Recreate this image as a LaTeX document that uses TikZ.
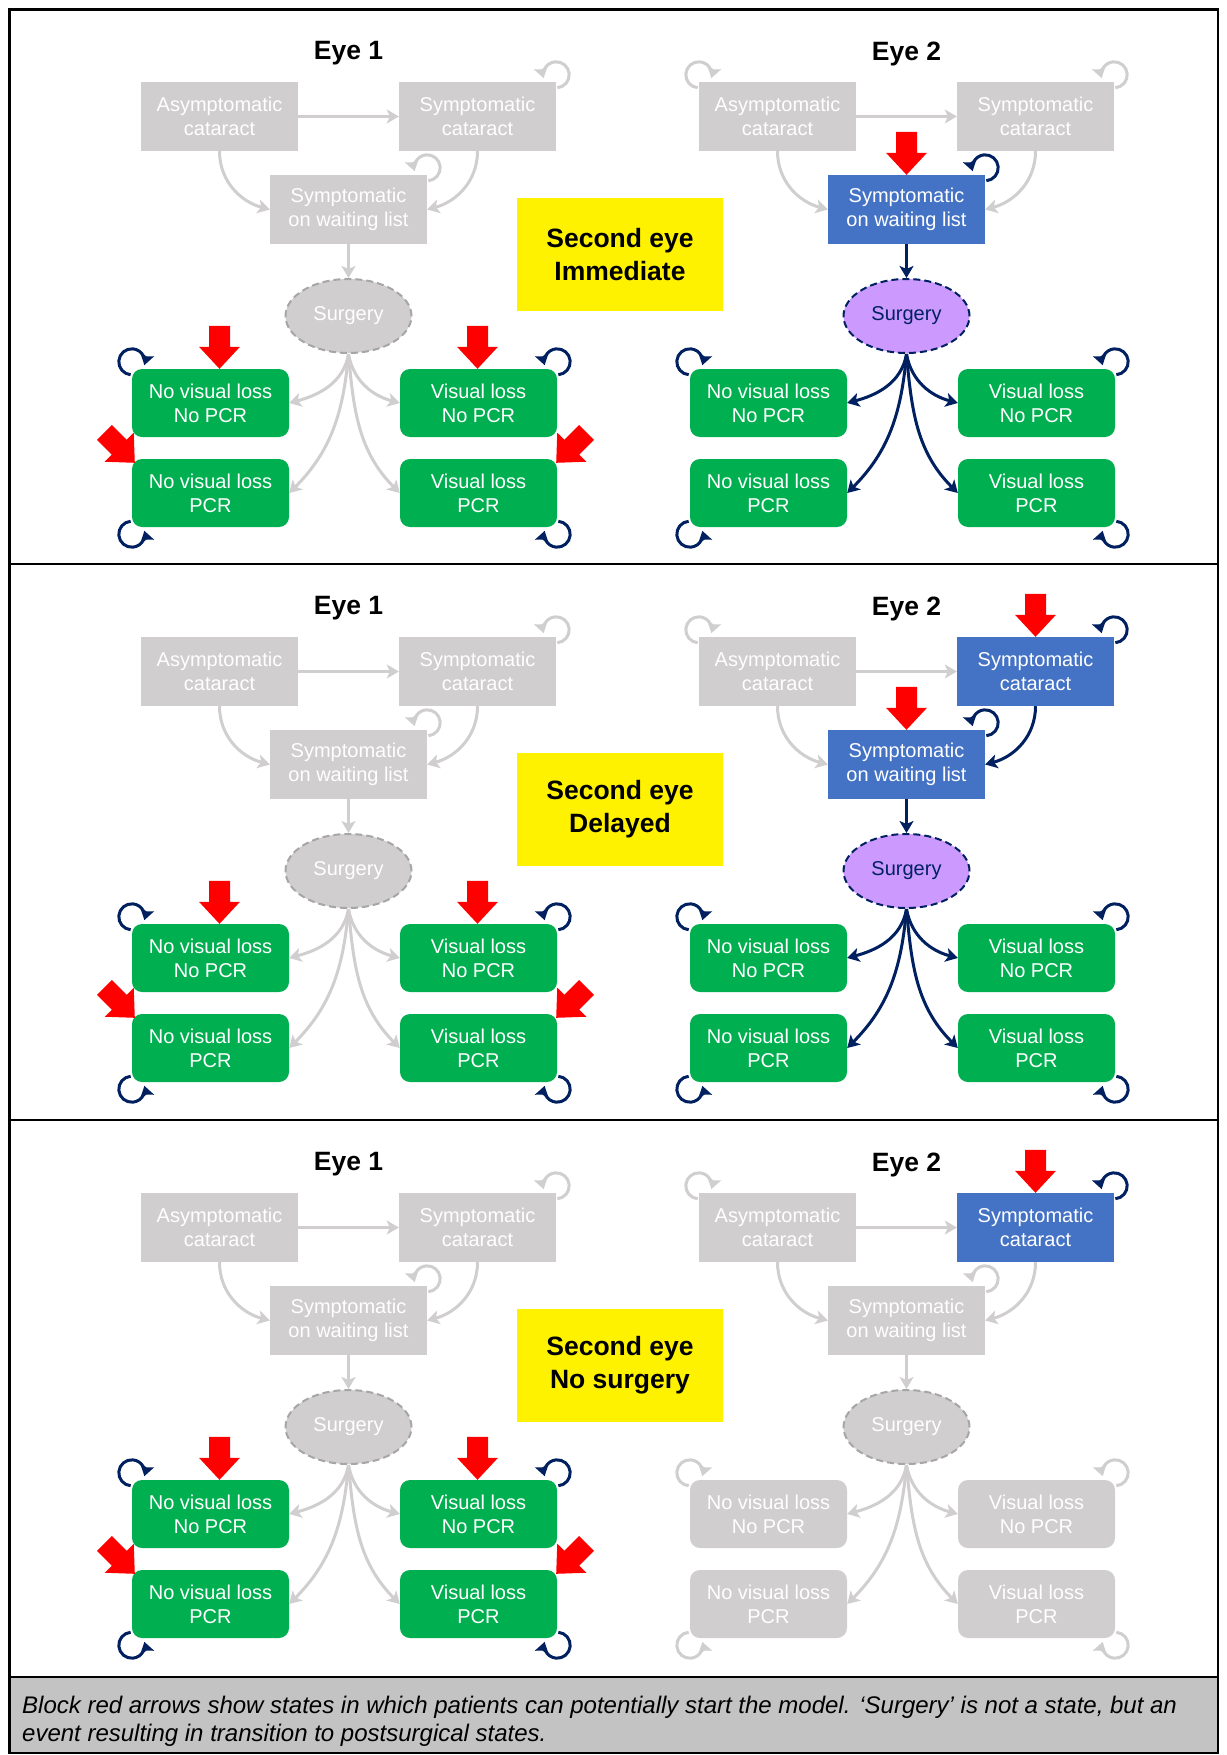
\documentclass[tikz,border=0pt]{standalone}
\usepackage{fontspec}
\setmainfont{Liberation Sans}
\usetikzlibrary{arrows.meta,shapes.geometric}

\pgfdeclarelayer{loops}
\pgfsetlayers{loops,main}

\definecolor{stategray}{HTML}{D0CECE}
\definecolor{edgegray}{HTML}{A6A6A6}
\definecolor{stateblue}{HTML}{4472C4}
\definecolor{stategreen}{HTML}{00B050}
\definecolor{navy}{HTML}{002060}
\definecolor{lilac}{HTML}{CC99FF}
\definecolor{notegray}{HTML}{C3C3C3}

% one eye of the model: #1 name prefix, #2 centre x, #3 top of panel, #4 label
\newcommand{\eyemodel}[4]{%
	\node[eyelabel] (#1lab) at ({#2},{-#3-44.5}) {#4};
	\node[asympst] (#1a) at ({#2-129},{-#3-107.5}) {Asymptomatic\\cataract};
	\node[sympst] (#1s) at ({#2+129},{-#3-107.5}) {Symptomatic\\cataract};
	\node[waitst] (#1w) at ({#2},{-#3-200.5}) {Symptomatic\\on waiting list};
	\node[surgst] (#1su) at ({#2},{-#3-307}) {Surgery};
	\node[postst] (#1g1) at ({#2-138},{-#3-394}) {No visual loss\\No PCR};
	\node[postst] (#1g2) at ({#2+130},{-#3-394}) {Visual loss\\No PCR};
	\node[postst] (#1g3) at ({#2-138},{-#3-484}) {No visual loss\\PCR};
	\node[postst] (#1g4) at ({#2+130},{-#3-484}) {Visual loss\\PCR};
	
	\draw[aslink] (#1a) -- (#1s);
	\draw[awlink] (#1a.south) to[out=-90,in=165] (#1w.west);
	\draw[swlink] (#1s.south) to[out=-90,in=15] (#1w.east);
	\draw[wslink] (#1w) -- (#1su);
	\draw[sglink] (#1su.south) to[out=-100,in=15] (#1g1.east);
	\draw[sglink] (#1su.south) to[out=-80,in=165] (#1g2.west);
	\draw[sglink] (#1su.south) to[out=-95,in=45] (#1g3.east);
	\draw[sglink] (#1su.south) to[out=-85,in=135] (#1g4.west);
	
	% staying in the same state (behind the boxes)
	\begin{pgfonlayer}{loops}
		\draw[aloop] ([yshift=7pt]#1a.north west) ++(265:13) arc[start angle=265,end angle=-15,radius=13];
		\draw[sloop] ([yshift=7pt]#1s.north east) ++(-85:13) arc[start angle=-85,end angle=195,radius=13];
		\draw[wloop] ([yshift=7pt]#1w.north east) ++(-85:13) arc[start angle=-85,end angle=195,radius=13];
		\draw[gloop] ([yshift=7pt]#1g1.north west) ++(265:13) arc[start angle=265,end angle=-15,radius=13];
		\draw[gloop] ([yshift=7pt]#1g2.north east) ++(-85:13) arc[start angle=-85,end angle=195,radius=13];
		\draw[gloop] ([yshift=-7pt]#1g3.south west) ++(95:13) arc[start angle=95,end angle=375,radius=13];
		\draw[gloop] ([yshift=-7pt]#1g4.south east) ++(85:13) arc[start angle=85,end angle=-195,radius=13];
	\end{pgfonlayer}
}

\begin{document}
\begin{tikzpicture}[
	x = 1pt, y = 1pt, % one unit per pixel of the figure
	state/.style = {rectangle, minimum width = 157pt, minimum height = 69pt, inner sep = 0pt,
		align = center, text = white, font = \fontsize{20}{24}\selectfont},
	grayst/.style = {state, fill = stategray},
	bluest/.style = {state, fill = stateblue},
	greenst/.style = {state, minimum height = 68pt, rounded corners = 10pt, fill = stategreen},
	grayendst/.style = {state, minimum height = 68pt, rounded corners = 10pt, fill = stategray},
	graysurg/.style = {ellipse, minimum width = 126pt, minimum height = 74pt, inner sep = 0pt,
		fill = stategray, draw = edgegray, line width = 2pt, dash pattern = on 7pt off 4pt,
		text = white, font = \fontsize{20}{24}\selectfont},
	lilacsurg/.style = {graysurg, fill = lilac, draw = navy, text = navy},
	graylink/.style = {draw = stategray, line width = 3pt, -{Stealth[length = 12pt, width = 14pt, inset = 3pt]}},
	navylink/.style = {graylink, draw = navy},
	grayloop/.style = {draw = stategray, line width = 3pt, -{Stealth[length = 11pt, width = 14pt, inset = 2pt]}},
	navyloop/.style = {grayloop, draw = navy},
	eyelabel/.style = {inner sep = 0pt, font = \fontsize{26.5}{31}\selectfont\bfseries},
	note/.style = {rectangle, minimum width = 206pt, minimum height = 113pt, fill = yellow,
		align = center, font = \fontsize{26.5}{33}\selectfont\bfseries},
	blockarrow/.pic = {\fill[red] (0,0) -- (-20.5,22) -- (-10.5,22) -- (-10.5,43) -- (10.5,43) -- (10.5,22) -- (20.5,22) -- cycle;},
	% first eye: all grey until surgery is done
	asympst/.style = {grayst}, sympst/.style = {grayst}, waitst/.style = {grayst},
	surgst/.style = {graysurg}, postst/.style = {greenst},
	aslink/.style = {graylink}, awlink/.style = {graylink}, swlink/.style = {graylink},
	wslink/.style = {graylink}, sglink/.style = {graylink},
	aloop/.style = {draw = none}, sloop/.style = {grayloop}, wloop/.style = {grayloop},
	gloop/.style = {navyloop}
	]
	
	\useasboundingbox (0,0) rectangle (1226,-1755);
	
	\fill[notegray] (9.5,-1677) rectangle (1218,-1753);
	
	% Second eye immediate
	\eyemodel{im1}{348.5}{9}{Eye 1}
	\begin{scope}[waitst/.style = {bluest}, wslink/.style = {navylink}, surgst/.style = {lilacsurg},
		sglink/.style = {navylink}, aloop/.style = {grayloop}, wloop/.style = {navyloop}]
		\eyemodel{im2}{906.5}{9}{Eye 2}
	\end{scope}
	\node[note] (imnote) at (620,-254.5) {Second eye\\Immediate};
	
	% Second eye delayed
	\eyemodel{de1}{348.5}{564}{Eye 1}
	\begin{scope}[sympst/.style = {bluest}, waitst/.style = {bluest}, swlink/.style = {navylink},
		wslink/.style = {navylink}, surgst/.style = {lilacsurg}, sglink/.style = {navylink},
		aloop/.style = {grayloop}, sloop/.style = {navyloop}, wloop/.style = {navyloop}]
		\eyemodel{de2}{906.5}{564}{Eye 2}
	\end{scope}
	\node[note] (denote) at (620,-809.5) {Second eye\\Delayed};
	
	% Second eye no surgery
	\eyemodel{ns1}{348.5}{1120}{Eye 1}
	\begin{scope}[sympst/.style = {bluest}, postst/.style = {grayendst},
		aloop/.style = {grayloop}, sloop/.style = {navyloop}, gloop/.style = {grayloop}]
		\eyemodel{ns2}{906.5}{1120}{Eye 2}
	\end{scope}
	\node[note] (nsnote) at (620,-1365.5) {Second eye\\No surgery};
	
	% block red arrows: possible starting states
	\foreach \p in {im,de,ns} {
		\pic at (\p1a |- \p1g1.north) {blockarrow};
		\pic at (\p1s |- \p1g2.north) {blockarrow};
		\pic[rotate = 45] at ([shift = {(3,-4)}]\p1g3.north west) {blockarrow};
		\pic[rotate = -45] at ([shift = {(-1,-4)}]\p1g4.north east) {blockarrow};
	}
	\pic at (im2w.north) {blockarrow};
	\pic at (de2w.north) {blockarrow};
	\pic at (de2s.north) {blockarrow};
	\pic at (ns2s.north) {blockarrow};
	
	% frame and panels
	\draw[line width = 2.2pt] (9.5,-9.5) rectangle (1218,-1753);
	\draw[line width = 2.2pt] (9.5,-564) -- (1218,-564);
	\draw[line width = 2.2pt] (9.5,-1120) -- (1218,-1120);
	\draw[line width = 2pt] (9.5,-1677) -- (1218,-1677);
	
	\node[anchor = west, align = left, inner sep = 0pt, font = \fontsize{24}{28}\selectfont\itshape]
		(caption) at (22,-1721) {Block red arrows show states in which patients can potentially start the model. ‘Surgery’ is not a state, but an\\event resulting in transition to postsurgical states.};
	
\end{tikzpicture}
\end{document}
